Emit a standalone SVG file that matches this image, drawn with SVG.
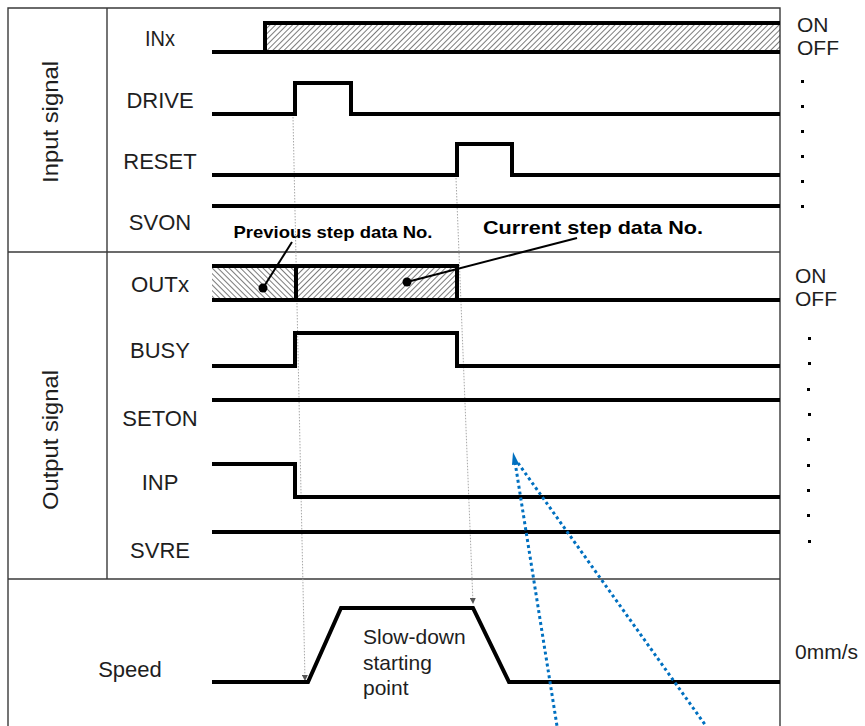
<svg xmlns="http://www.w3.org/2000/svg" width="865" height="726" viewBox="0 0 865 726">
<style>
  .frame { fill: none; stroke: #3a3a3a; stroke-width: 1.4; }
  .sig { fill: none; stroke: #000; stroke-width: 4; stroke-linejoin: miter; stroke-linecap: butt; }
  .lbl { font-family: "Liberation Sans", Arial, sans-serif; font-size: 22px; fill: #1e1e1e; text-anchor: middle; }
  .side { font-family: "Liberation Sans", Arial, sans-serif; font-size: 21px; fill: #1e1e1e; }
  .call { font-family: "Liberation Sans", Arial, sans-serif; font-weight: bold; fill: #000; }
  .guide { fill: none; stroke: #a8a8a8; stroke-width: 1; stroke-dasharray: 1.5 1.5; }
  .blue { fill: none; stroke: #0070c0; stroke-width: 3; stroke-dasharray: 3 3; }
  .dot { fill: #000; }
</style>
<defs>
  <pattern id="hatchF" patternUnits="userSpaceOnUse" width="4" height="4" patternTransform="rotate(45)">
    <line x1="0" y1="0" x2="0" y2="4" stroke="#222" stroke-width="1.2"/>
  </pattern>
  <pattern id="hatchB" patternUnits="userSpaceOnUse" width="4" height="4" patternTransform="rotate(-45)">
    <line x1="0" y1="0" x2="0" y2="4" stroke="#222" stroke-width="1.2"/>
  </pattern>
  <marker id="garrow" markerWidth="6" markerHeight="6" refX="5" refY="3" orient="auto" markerUnits="userSpaceOnUse">
    <path d="M0,0 L6,3 L0,6 z" fill="#555"/>
  </marker>
</defs>
<rect width="865" height="726" fill="#fff"/>

<g id="frame">
  <path class="frame" d="M8,726 V8 H780 V726"/>
  <line class="frame" x1="107" y1="8" x2="107" y2="579"/>
  <line class="frame" x1="8" y1="252" x2="780" y2="252"/>
  <line class="frame" x1="8" y1="579" x2="780" y2="579"/>
</g>

<g id="group-labels">
  <text class="lbl" transform="translate(58,122) rotate(-90)" textLength="122" lengthAdjust="spacingAndGlyphs">Input signal</text>
  <text class="lbl" transform="translate(58,440) rotate(-90)" textLength="140" lengthAdjust="spacingAndGlyphs">Output signal</text>
</g>

<g id="signal-labels">
  <text class="lbl" x="160" y="46" textLength="30" lengthAdjust="spacingAndGlyphs">INx</text>
  <text class="lbl" x="160" y="108">DRIVE</text>
  <text class="lbl" x="160" y="169">RESET</text>
  <text class="lbl" x="160" y="230">SVON</text>
  <text class="lbl" x="160" y="292" textLength="58" lengthAdjust="spacingAndGlyphs">OUTx</text>
  <text class="lbl" x="160" y="358">BUSY</text>
  <text class="lbl" x="160" y="426">SETON</text>
  <text class="lbl" x="160" y="490">INP</text>
  <text class="lbl" x="160" y="558">SVRE</text>
  <text class="lbl" x="130" y="677">Speed</text>
</g>

<g id="side-labels">
  <text class="side" x="797" y="32">ON</text>
  <text class="side" x="797" y="55">OFF</text>
  <text class="side" x="795" y="283">ON</text>
  <text class="side" x="795" y="306">OFF</text>
  <text class="side" x="795" y="659">0mm/s</text>
  <g class="dot">
    <rect x="801" y="80" width="3" height="3"/>
    <rect x="801" y="105" width="3" height="3"/>
    <rect x="801" y="130" width="3" height="3"/>
    <rect x="801" y="155" width="3" height="3"/>
    <rect x="801" y="180" width="3" height="3"/>
    <rect x="801" y="205" width="3" height="3"/>
    <rect x="808" y="337" width="3" height="3"/>
    <rect x="808" y="362" width="3" height="3"/>
    <rect x="807" y="388" width="3" height="3"/>
    <rect x="808" y="413" width="3" height="3"/>
    <rect x="807" y="438" width="3" height="3"/>
    <rect x="807" y="464" width="3" height="3"/>
    <rect x="807" y="489" width="3" height="3"/>
    <rect x="807" y="514" width="3" height="3"/>
    <rect x="808" y="540" width="3" height="3"/>
  </g>
</g>

<g id="connectors">
  <line class="guide" x1="293" y1="117" x2="305" y2="680" marker-end="url(#garrow)"/>
  <line class="guide" x1="456" y1="178" x2="473" y2="603" marker-end="url(#garrow)"/>
</g>

<g id="sig-INx">
  <rect x="265" y="23" width="515" height="29" fill="url(#hatchF)"/>
  <path class="sig" d="M212,52 H780 M265,52 V23 H780"/>
</g>
<g id="sig-DRIVE"><path class="sig" d="M212,114 H295 V83 H351 V114 H780"/></g>
<g id="sig-RESET"><path class="sig" d="M212,175 H457 V144 H512 V175 H780"/></g>
<g id="sig-SVON"><path class="sig" d="M212,206 H780"/></g>

<g id="sig-OUTx">
  <rect x="212" y="266" width="84" height="34" fill="url(#hatchB)"/>
  <rect x="296" y="266" width="161" height="34" fill="url(#hatchF)"/>
  <path class="sig" d="M212,266 H457 V300 M212,300 H780 M296,266 V300"/>
</g>
<g id="sig-BUSY"><path class="sig" d="M212,366 H295 V333 H457 V366 H780"/></g>
<g id="sig-SETON"><path class="sig" d="M212,400 H780"/></g>
<g id="sig-INP"><path class="sig" d="M212,464 H295 V497 H780"/></g>
<g id="sig-SVRE"><path class="sig" d="M212,532 H780"/></g>

<g id="sig-Speed">
  <path class="sig" d="M212,682 H308 L341,608 H473 L509,682 H780"/>
  <text class="side" font-size="21" x="363" y="644">Slow-down</text>
  <text class="side" font-size="21" x="363" y="670">starting</text>
  <text class="side" font-size="21" x="363" y="695">point</text>
</g>

<g id="callout-previous">
  <text class="call" x="333" y="238" font-size="17" text-anchor="middle" textLength="199" lengthAdjust="spacingAndGlyphs">Previous step data No.</text>
  <line x1="263" y1="288" x2="292" y2="242" stroke="#000" stroke-width="2"/>
  <circle cx="263" cy="288" r="4.5" fill="#000"/>
</g>
<g id="callout-current">
  <text class="call" x="593" y="234" font-size="19" text-anchor="middle" textLength="220" lengthAdjust="spacingAndGlyphs">Current step data No.</text>
  <line x1="407" y1="282" x2="577" y2="238" stroke="#000" stroke-width="2"/>
  <circle cx="407" cy="282" r="4.5" fill="#000"/>
</g>

<g id="blue-pointer">
  <line class="blue" x1="515" y1="462" x2="557" y2="726"/>
  <line class="blue" x1="518" y1="463" x2="706" y2="726"/>
  <polygon points="513,452 519,464 512,465" fill="#0070c0"/>
</g>
</svg>
